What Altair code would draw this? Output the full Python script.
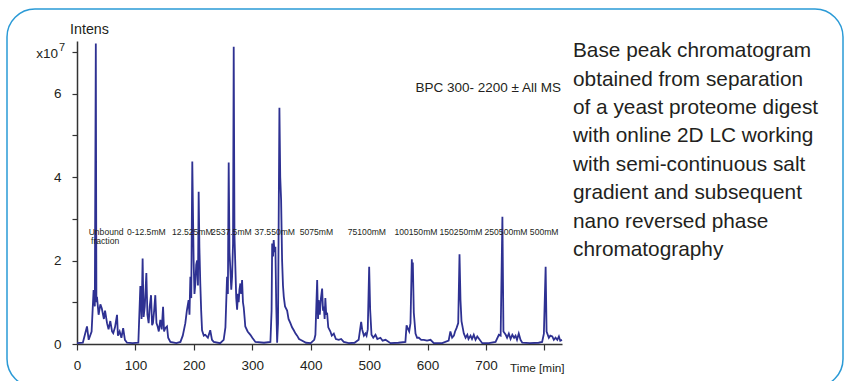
import altair as alt
import pandas as pd

# ---- chromatogram (time in min, intensity in units of 1e7) ----
time_min = [0, 10, 17.1, 20, 25, 28.4, 30.5, 32.2, 33.2, 34.2, 37, 40, 42.5, 46, 48, 51.4, 54, 57, 60, 62,
            65, 68.5, 70, 73, 76, 79, 82, 85.6, 95, 105, 108.4, 110.5, 112.3, 114, 116, 118.7, 120.5, 122.6,
            124.5, 126.7, 128.5, 130, 132, 134, 136, 138, 140, 142.6, 145, 147.3, 149, 151, 154, 156, 159.8,
            170, 177, 181, 185.4, 188, 191, 192.5, 194, 195.5, 197.3, 199.6, 201, 202.6, 204, 205.5, 207,
            208.2, 209.5, 211, 212.5, 214, 217, 219.7, 224, 228, 231, 234, 245, 251, 254, 256.8, 258.2,
            259.6, 261, 262.5, 264, 265.4, 267, 268.2, 269.5, 271, 272.5, 274, 275.5, 276.7, 278, 279.6,
            281, 282.5, 284, 285.3, 287, 288, 292, 296.7, 300, 305.3, 320, 331, 333, 334, 335.5, 336.6, 338,
            339.5, 341, 342.5, 344, 346.4, 347.8, 349.3, 351, 352.5, 353.9, 356, 359.6, 362, 365.2, 368,
            371, 374, 376.7, 380, 382.4, 392, 400, 406, 408, 411, 412.5, 413.7, 415.5, 417.5, 419.5, 421,
            422.3, 423.8, 425, 426.5, 428, 430, 433.7, 436, 439.5, 443, 448, 452, 456.5, 465, 475, 482,
            486.3, 488, 489, 491, 493.7, 495.5, 497.6, 500, 501.7, 504, 507, 510.8, 514, 519.3, 523, 528,
            536.5, 550, 562, 564, 566.8, 568.5, 570.7, 573, 574, 574.7, 576.4, 579.3, 582, 585, 589, 593.5,
            599, 605, 610.6, 625, 636, 639, 642, 645, 647, 649.5, 652.4, 654.6, 656.3, 658, 662, 665, 668,
            670, 673.5, 676, 679, 682, 685, 693.5, 705, 716.3, 722, 725, 728, 729.8, 733.7, 736, 739, 742,
            745, 748, 750.5, 753, 756, 759, 762, 775, 790, 796, 799, 802, 803.6, 807.5, 810, 813.4, 816,
            819, 822, 824.7, 827, 830]
intensity = [0.02, 0.03, 0.42, 0.1, 0.3, 1.29, 0.9, 7.2, 1.0, 1.13, 0.7, 0.95, 0.85, 0.6, 0.8, 0.5, 0.35, 0.55, 0.3, 0.26,
             0.4, 0.7, 0.2, 0.3, 0.15, 0.38, 0.1, 0.03, 0.02, 0.03, 1.39, 0.6, 2.05, 0.65, 0.9, 1.7, 0.7, 0.5,
             0.9, 1.17, 0.45, 0.5, 0.8, 1.17, 0.5, 0.42, 0.3, 0.58, 0.35, 0.89, 0.3, 0.38, 0.42, 0.15, 0.05,
             0.02, 0.05, 0.2, 0.5, 0.8, 1.05, 0.7, 1.61, 1.1, 4.37, 2.0, 1.2, 1.45, 1.9, 2.0, 1.4,
             3.65, 2.3, 1.45, 0.8, 0.33, 0.2, 0.22, 0.15, 0.33, 0.1, 0.05, 0.02, 0.1, 0.4, 1.61, 1.2,
             4.35, 2.2, 1.77, 1.3, 1.61, 2.4, 7.12, 2.6, 1.85, 1.1, 0.82, 1.2, 1.0, 1.3, 1.45,
             1.2, 1.53, 1.0, 0.88, 0.6, 0.42, 0.3, 0.22, 0.15, 0.05, 0.03, 0.05, 0.8, 2.41, 2.1, 2.49, 2.2,
             2.33, 0.9, 0.03, 0.5, 5.66, 4.0, 3.45, 2.0, 1.4, 1.13, 0.9, 0.8, 0.6, 0.5, 0.4,
             0.33, 0.25, 0.2, 0.12, 0.1, 0.03, 0.02, 0.1, 0.22, 1.53, 0.6, 1.05, 0.7, 1.1, 1.33, 0.8,
             0.9, 0.6, 1.1, 0.7, 0.75, 0.4, 0.3, 0.2, 0.25, 0.12, 0.1, 0.12, 0.05, 0.02, 0.03, 0.1,
             0.53, 0.35, 0.3, 0.2, 0.25, 0.2, 0.35, 1.85, 0.82, 0.22, 0.15, 0.22, 0.12, 0.15, 0.08, 0.1,
             0.02, 0.03, 0.05, 0.45, 0.35, 0.3, 0.5, 2.03, 1.5, 1.95, 0.75, 0.25, 0.15, 0.15, 0.1, 0.1,
             0.08, 0.1, 0.02, 0.02, 0.08, 0.3, 0.15, 0.2, 0.3, 0.38, 0.5, 2.15, 1.05, 0.55, 0.25, 0.15, 0.22,
             0.12, 0.2, 0.12, 0.22, 0.1, 0.18, 0.02, 0.02, 0.05, 0.22, 0.2, 3.05, 0.3, 0.22, 0.15, 0.25, 0.12,
             0.22, 0.15, 0.2, 0.1, 0.25, 0.1, 0.03, 0.02, 0.03, 0.05, 0.25, 1.85, 0.3, 0.15, 0.2, 0.18, 0.1,
             0.15, 0.1, 0.18, 0.08, 0.1]

# ---- fraction labels ----
frac_labels = ["Unbound", "fraction", "0-12.5mM", "12.525mM", "2537.5mM", "37.550mM", "5075mM",
               "75100mM", "100150mM", "150250mM", "250500mM", "500mM"]
frac_time = [19.9, 24.0, 85.6, 162.7, 229.5, 303.6, 381.2, 463.4, 543.3, 620.4, 697.4, 775.0]
frac_level = [2.61, 2.40, 2.61, 2.61, 2.61, 2.61, 2.61, 2.61, 2.61, 2.61, 2.61, 2.61]

x_ticks = [0, 100, 200, 300, 400, 500, 600, 700, 800]
y_ticks = [0, 1, 2, 3, 4, 5, 6, 7]

caption = ["Base peak chromatogram", "obtained from separation", "of a yeast proteome digest",
           "with online 2D LC working", "with semi-continuous salt", "gradient and subsequent",
           "nano reversed phase", "chromatography"]

FONT = "Liberation Sans, Arial, sans-serif"
LINE = "#2e3192"
TXT = "#231f20"

W, H = 485, 303
PL, PT = 77, 41

df = pd.DataFrame({"t": time_min, "i": intensity})
fr = pd.DataFrame({"label": frac_labels, "t": frac_time, "y": frac_level})
one = pd.DataFrame({"a": [0]})

xs = alt.Scale(domain=[0, 830], nice=False, zero=False)
ys = alt.Scale(domain=[0, 7.26], nice=False)

line = alt.Chart(df).mark_line(color=LINE, strokeWidth=1.8).encode(
    x=alt.X("t:Q", scale=xs, title=None,
            axis=alt.Axis(values=x_ticks, labelExpr="datum.value == 800 ? '' : datum.label",
                          grid=False, tickSize=6, labelPadding=8, labelFont=FONT, labelFontSize=13.5,
                          labelColor=TXT, domainColor="#333", tickColor="#333", domainWidth=1.5,
                          tickWidth=1.2, labelFlush=False)),
    y=alt.Y("i:Q", scale=ys, title=None,
            axis=alt.Axis(values=y_ticks,
                          labelExpr="(datum.value % 2 == 0 && datum.value < 7) ? datum.label : ''",
                          grid=False, tickSize=5, labelPadding=11, labelFont=FONT, labelFontSize=13.5,
                          labelColor=TXT, domainColor="#333", tickColor="#333", domainWidth=1.5,
                          tickWidth=1.2)),
)

frac = alt.Chart(fr).mark_text(align="left", baseline="alphabetic", font=FONT, fontSize=8.6,
                               color=TXT).encode(
    x=alt.X("t:Q", scale=xs), y=alt.Y("y:Q", scale=ys), text="label:N")

frame = alt.Chart(one).mark_rect(fill=None, fillOpacity=0, stroke="#2a9ad6", strokeWidth=1.5,
                                 cornerRadius=28).encode(
    x=alt.value(7 - PL), x2=alt.value(843 - PL), y=alt.value(9 - PT), y2=alt.value(387 - PT))

def label(text, x, y, size, align="left"):
    return alt.Chart(one).mark_text(text=text, align=align, baseline="alphabetic", font=FONT,
                                    fontSize=size, color=TXT).encode(
        x=alt.value(x - PL), y=alt.value(y - PT))

intens = label("Intens", 70, 33.5, 14.3)
x10 = label("x10", 58, 57.5, 13.5, align="right")
sup7 = label("7", 59, 50.5, 11)
bpc = label("BPC 300- 2200 ± All MS", 561, 91.5, 13.5, align="right")
tmin = label("Time [min]", 510, 371.5, 11.8)

cap = alt.Chart(one).mark_text(text=caption, align="left", baseline="alphabetic", font=FONT,
                               fontSize=20.8, lineHeight=28.4, color=TXT).encode(
    x=alt.value(573 - PL), y=alt.value(57.3 - PT))

chart = alt.layer(frame, line, frac, intens, x10, sup7, bpc, tmin, cap).properties(
    width=W, height=H,
    autosize=alt.AutoSizeParams(type="none"),
    padding={"left": PL, "top": PT, "right": 845 - PL - W, "bottom": 381 - PT - H},
    background="white",
).configure_view(stroke=None)

chart.save("out.html", embed_options={"renderer": "svg", "actions": False})
